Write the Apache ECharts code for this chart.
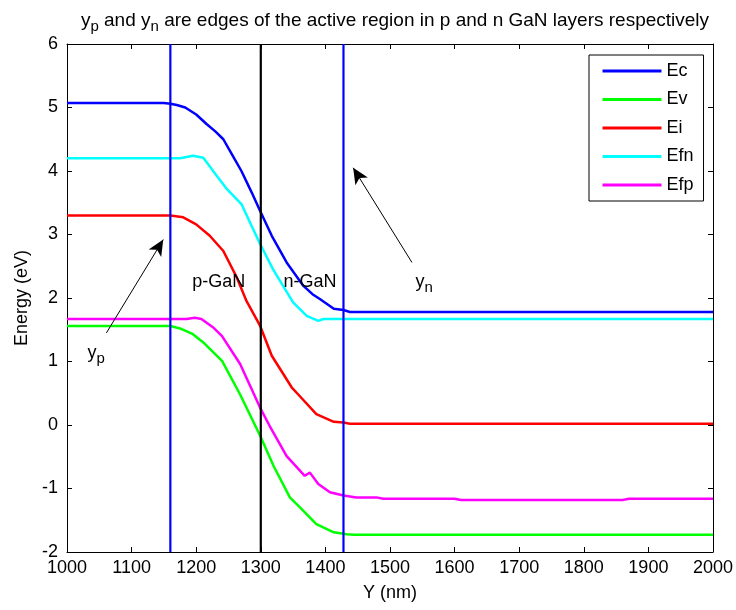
<!DOCTYPE html>
<html>
<head>
<meta charset="utf-8">
<script src="https://cdn.jsdelivr.net/npm/echarts@6/dist/echarts.min.js"></script>
<style>html,body{margin:0;padding:0;background:#fff}#c{width:736px;height:610px}</style>
</head>
<body>
<div id="c"></div>
<script>
// ---- data ----
var seriesNames = ['Ec', 'Ev', 'Ei', 'Efn', 'Efp'];
var ecX = [1000, 1150, 1160, 1170, 1183, 1200, 1216, 1230, 1242, 1256, 1270, 1286, 1299, 1317, 1340, 1366, 1380, 1392, 1413, 1428, 1438, 2000];
var ecY = [5.07, 5.07, 5.06, 5.04, 5.00, 4.89, 4.74, 4.62, 4.50, 4.25, 4.00, 3.66, 3.37, 2.98, 2.56, 2.19, 2.06, 1.98, 1.83, 1.81, 1.78, 1.78];
var evX = [1000, 1160, 1175, 1195, 1211, 1227, 1240, 1268, 1299, 1320, 1345, 1361, 1386, 1413, 1433, 1445, 2000];
var evY = [1.56, 1.56, 1.52, 1.43, 1.30, 1.14, 1.01, 0.48, -0.17, -0.65, -1.14, -1.30, -1.56, -1.69, -1.72, -1.73, -1.73];
var eiX = [1000, 1160, 1180, 1200, 1221, 1242, 1263, 1278, 1299, 1317, 1348, 1358, 1386, 1413, 1428, 1438, 2000];
var eiY = [3.30, 3.30, 3.27, 3.16, 2.98, 2.74, 2.32, 1.95, 1.56, 1.09, 0.59, 0.48, 0.17, 0.05, 0.04, 0.02, 0.02];
var efnX = [1000, 1175, 1185, 1195, 1211, 1232, 1248, 1270, 1286, 1299, 1319, 1350, 1371, 1389, 1397, 2000];
var efnY = [4.20, 4.20, 4.22, 4.24, 4.21, 3.92, 3.71, 3.48, 3.13, 2.85, 2.45, 1.93, 1.72, 1.64, 1.67, 1.67];
var efpX = [1000, 1185, 1198, 1208, 1227, 1240, 1268, 1299, 1314, 1340, 1368, 1376, 1389, 1407, 1428, 1448, 1479, 1490, 1600, 1610, 1860, 1870, 2000];
var efpY = [1.67, 1.67, 1.69, 1.67, 1.53, 1.40, 0.96, 0.27, -0.02, -0.49, -0.80, -0.75, -0.93, -1.06, -1.11, -1.14, -1.14, -1.16, -1.16, -1.18, -1.18, -1.16, -1.16];
var edgeX = [1160, 1300, 1428];      // y_p, junction, y_n
var xTicks = [1000, 1100, 1200, 1300, 1400, 1500, 1600, 1700, 1800, 1900, 2000];
var yTicks = [-2, -1, 0, 1, 2, 3, 4, 5, 6];
// annotation anchors in data units
var arrowP = [[1061, 1.45], [1149, 2.92]];
var arrowN = [[1534, 2.56], [1443, 4.05]];
var textLabels = [
  {pos: [1235, 2.25], text: 'p-GaN'},
  {pos: [1376, 2.25], text: 'n-GaN'},
  {pos: [1045, 1.13], text: 'y{s|p}'},
  {pos: [1553, 2.25], text: 'y{s|n}'}
];

var FONT = 'Liberation Sans, Arial, sans-serif';
var colors = ['#0000ff', '#00ff00', '#ff0000', '#00ffff', '#ff00ff'];
function zip(xs, ys) { return xs.map(function (x, i) { return [x, ys[i]]; }); }
var xMin = xTicks[0], xMax = xTicks[xTicks.length - 1];
var yMin = yTicks[0], yMax = yTicks[yTicks.length - 1];

var allX = [ecX, evX, eiX, efnX, efpX];
var allY = [ecY, evY, eiY, efnY, efpY];

var series = seriesNames.map(function (n, i) {
  return {
    name: n, type: 'line', data: zip(allX[i], allY[i]),
    symbol: 'none', smooth: false, animation: false,
    lineStyle: {color: colors[i], width: 2.5}, itemStyle: {color: colors[i]}, z: 3
  };
});
var edgeColors = ['#0000ff', '#000000', '#0000ff'];
edgeX.forEach(function (x, i) {
  series.push({
    name: 'edge' + i, type: 'line', data: [[x, yMin], [x, yMax]], symbol: 'none',
    lineStyle: {color: edgeColors[i], width: 2.2}, z: 4, animation: false, silent: true
  });
});
series.push({
  name: 'ann', type: 'scatter', data: textLabels.map(function (t) { return {value: t.pos, text: t.text}; }),
  symbolSize: 0, animation: false, silent: true, z: 6,
  itemStyle: {color: '#000', opacity: 0},
  label: {
    show: true, position: 'inside', color: '#000', fontFamily: FONT, fontSize: 18,
    textBorderWidth: 0, textBorderColor: 'transparent', opacity: 1,
    formatter: function (p) { return p.data.text; },
    rich: {s: {fontSize: 15, fontFamily: FONT, color: '#000', padding: [12, 0, 0, 0]}}
  },
  markLine: {
    silent: true, animation: false, symbol: ['none', 'arrow'], symbolSize: [11, 16],
    lineStyle: {color: '#000', width: 1, type: 'solid'}, label: {show: false},
    data: [
      [{coord: arrowP[0]}, {coord: arrowP[1]}],
      [{coord: arrowN[0]}, {coord: arrowN[1]}]
    ]
  }
});

var axisCommon = {
  type: 'value', axisLine: {show: true, onZero: false, lineStyle: {color: '#000', width: 1}},
  axisTick: {show: true, inside: true, length: 5, lineStyle: {color: '#000'}},
  splitLine: {show: false}
};
var plain = function (v) { return String(v); };

var chart = echarts.init(document.getElementById('c'), null, {renderer: 'canvas'});
chart.setOption({
  backgroundColor: '#fff',
  animation: false,
  title: {
    text: 'y{s|p} and y{s|n} are edges of the active region in p and n GaN layers respectively',
    left: 390, top: 2, textAlign: 'center',
    textStyle: {
      fontFamily: FONT, fontSize: 19, fontWeight: 'normal', color: '#000',
      rich: {s: {fontSize: 15, fontFamily: FONT, color: '#000', padding: [12, 0, 0, 0]}}
    }
  },
  grid: {left: 67, right: 23, top: 44, bottom: 58},
  legend: {
    data: seriesNames, orient: 'vertical', left: 589, top: 55,
    itemWidth: 59, itemHeight: 18, itemGap: 10.5, itemStyle: {opacity: 0},
    lineStyle: {width: 3},
    backgroundColor: '#fff', borderColor: '#000', borderWidth: 1, borderRadius: 0,
    padding: [7, 10, 7, 12],
    textStyle: {fontFamily: FONT, fontSize: 18, color: '#000'}
  },
  xAxis: [
    Object.assign({}, axisCommon, {
      position: 'bottom', min: xMin, max: xMax, interval: 100,
      name: 'Y (nm)', nameLocation: 'middle', nameGap: 32,
      nameTextStyle: {fontFamily: FONT, fontSize: 18, color: '#000'},
      axisLabel: {fontFamily: FONT, fontSize: 18, color: '#000', margin: 7, formatter: plain}
    }),
    Object.assign({}, axisCommon, {
      position: 'top', min: xMin, max: xMax, interval: 100, axisLabel: {show: false}
    })
  ],
  yAxis: [
    Object.assign({}, axisCommon, {
      position: 'left', min: yMin, max: yMax, interval: 1,
      name: 'Energy (eV)', nameLocation: 'middle', nameGap: 36,
      nameTextStyle: {fontFamily: FONT, fontSize: 18, color: '#000'},
      axisLabel: {fontFamily: FONT, fontSize: 18, color: '#000', margin: 9, formatter: plain}
    }),
    Object.assign({}, axisCommon, {
      position: 'right', min: yMin, max: yMax, interval: 1, axisLabel: {show: false}
    })
  ],
  series: series
});
</script>
</body>
</html>
